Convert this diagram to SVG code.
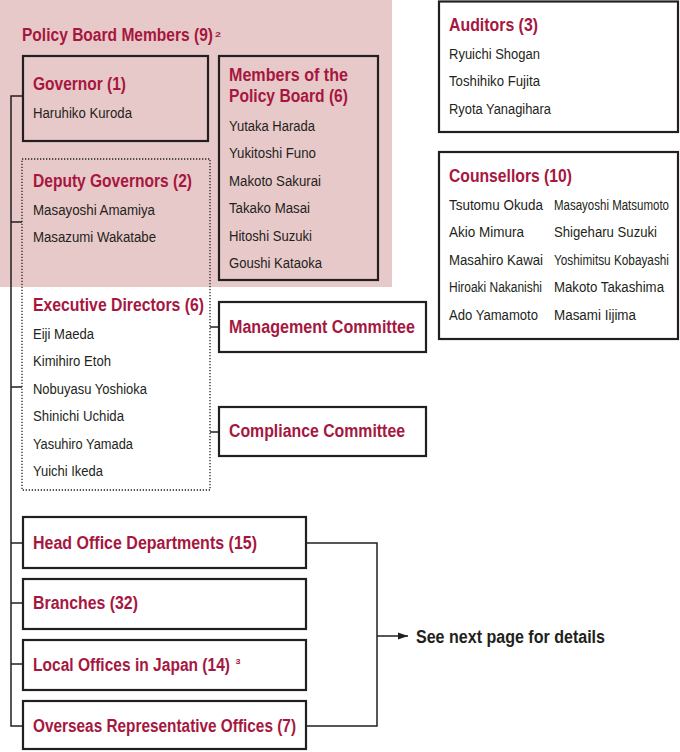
<svg xmlns="http://www.w3.org/2000/svg" width="680" height="752" viewBox="0 0 680 752">
<style>
text{font-family:"Liberation Sans",Arial,sans-serif}
.t{font-weight:bold;font-size:18px;fill:#A6173F}
.n{font-size:15.5px;fill:#231F20}
.k{font-weight:bold;font-size:18px;fill:#231F20}
.sup{font-weight:bold;font-size:7.5px;fill:#A6173F}
.box{fill:none;stroke:#231F20;stroke-width:2.2}
.dot{fill:none;stroke:#231F20;stroke-width:1.3;stroke-dasharray:1.3 1.7}
.ln{fill:none;stroke:#231F20;stroke-width:1.5}
</style>
<defs>
<marker id="ah" viewBox="0 0 10 10" refX="10" refY="5" markerWidth="10" markerHeight="10" markerUnits="userSpaceOnUse" orient="auto">
<path d="M0,1.5 L10,5 L0,8.5 Z" fill="#231F20"/>
</marker>
</defs>
<rect x="0" y="0" width="392" height="287" fill="#E8C9C9"/>
<text x="22" y="41" class="t" textLength="191" lengthAdjust="spacingAndGlyphs">Policy Board Members (9)</text>
<text x="215" y="37" class="sup" textLength="6" lengthAdjust="spacingAndGlyphs">2</text>

<g id="connectors">
<path class="ln" d="M23,96 H11 V726 H23"/>
<path class="ln" d="M11,222 H22 M11,387 H22 M11,543 H23 M11,603 H23 M11,664 H23"/>
<path class="ln" d="M210,327 H219 M210,432 H219"/>
<path class="ln" d="M306,543 H377 V726 H306 M377,636 H408" marker-end="url(#ah)"/>
</g>

<g id="governor">
<rect class="box" x="23" y="56" width="185" height="85"/>
<text x="33" y="90" class="t" textLength="93" lengthAdjust="spacingAndGlyphs">Governor (1)</text>
<text x="33" y="118" class="n" textLength="99" lengthAdjust="spacingAndGlyphs">Haruhiko Kuroda</text>
</g>

<g id="members">
<rect class="box" x="219" y="56" width="159" height="224"/>
<text x="229" y="81" class="t" textLength="119" lengthAdjust="spacingAndGlyphs">Members of the</text>
<text x="229" y="102" class="t" textLength="119" lengthAdjust="spacingAndGlyphs">Policy Board (6)</text>
<text x="229" y="130.5" class="n" textLength="86" lengthAdjust="spacingAndGlyphs">Yutaka Harada</text>
<text x="229" y="158" class="n" textLength="87" lengthAdjust="spacingAndGlyphs">Yukitoshi Funo</text>
<text x="229" y="185.5" class="n" textLength="92" lengthAdjust="spacingAndGlyphs">Makoto Sakurai</text>
<text x="229" y="213" class="n" textLength="81" lengthAdjust="spacingAndGlyphs">Takako Masai</text>
<text x="229" y="240.5" class="n" textLength="83" lengthAdjust="spacingAndGlyphs">Hitoshi Suzuki</text>
<text x="229" y="268" class="n" textLength="93" lengthAdjust="spacingAndGlyphs">Goushi Kataoka</text>
</g>

<g id="deputy-executive">
<rect class="dot" x="22" y="159" width="188" height="331"/>
<text x="33" y="187" class="t" textLength="159" lengthAdjust="spacingAndGlyphs">Deputy Governors (2)</text>
<text x="33" y="214.5" class="n" textLength="122" lengthAdjust="spacingAndGlyphs">Masayoshi Amamiya</text>
<text x="33" y="242" class="n" textLength="123" lengthAdjust="spacingAndGlyphs">Masazumi Wakatabe</text>
<text x="33" y="311" class="t" textLength="171" lengthAdjust="spacingAndGlyphs">Executive Directors (6)</text>
<text x="33" y="338.5" class="n" textLength="61" lengthAdjust="spacingAndGlyphs">Eiji Maeda</text>
<text x="33" y="366" class="n" textLength="78" lengthAdjust="spacingAndGlyphs">Kimihiro Etoh</text>
<text x="33" y="393.5" class="n" textLength="114" lengthAdjust="spacingAndGlyphs">Nobuyasu Yoshioka</text>
<text x="33" y="421" class="n" textLength="91" lengthAdjust="spacingAndGlyphs">Shinichi Uchida</text>
<text x="33" y="448.5" class="n" textLength="100" lengthAdjust="spacingAndGlyphs">Yasuhiro Yamada</text>
<text x="33" y="476" class="n" textLength="70" lengthAdjust="spacingAndGlyphs">Yuichi Ikeda</text>
</g>

<g id="management">
<rect class="box" x="219" y="302" width="207" height="50"/>
<text x="229" y="333" class="t" textLength="186" lengthAdjust="spacingAndGlyphs">Management Committee</text>
</g>
<g id="compliance">
<rect class="box" x="219" y="407" width="207" height="49"/>
<text x="229" y="437" class="t" textLength="176" lengthAdjust="spacingAndGlyphs">Compliance Committee</text>
</g>

<g id="auditors">
<rect class="box" x="439" y="1.5" width="239" height="130.5"/>
<text x="449" y="31" class="t" textLength="89" lengthAdjust="spacingAndGlyphs">Auditors (3)</text>
<text x="449" y="58.5" class="n" textLength="91" lengthAdjust="spacingAndGlyphs">Ryuichi Shogan</text>
<text x="449" y="86" class="n" textLength="91" lengthAdjust="spacingAndGlyphs">Toshihiko Fujita</text>
<text x="449" y="113.5" class="n" textLength="102" lengthAdjust="spacingAndGlyphs">Ryota Yanagihara</text>
</g>

<g id="counsellors">
<rect class="box" x="439" y="152" width="239" height="187"/>
<text x="449" y="182" class="t" textLength="123" lengthAdjust="spacingAndGlyphs">Counsellors (10)</text>
<text x="449" y="209.5" class="n" textLength="94" lengthAdjust="spacingAndGlyphs">Tsutomu Okuda</text>
<text x="449" y="237" class="n" textLength="75" lengthAdjust="spacingAndGlyphs">Akio Mimura</text>
<text x="449" y="264.5" class="n" textLength="94" lengthAdjust="spacingAndGlyphs">Masahiro Kawai</text>
<text x="449" y="292" class="n" textLength="93" lengthAdjust="spacingAndGlyphs">Hiroaki Nakanishi</text>
<text x="449" y="319.5" class="n" textLength="89" lengthAdjust="spacingAndGlyphs">Ado Yamamoto</text>
<text x="554" y="209.5" class="n" textLength="115" lengthAdjust="spacingAndGlyphs">Masayoshi Matsumoto</text>
<text x="554" y="237" class="n" textLength="103" lengthAdjust="spacingAndGlyphs">Shigeharu Suzuki</text>
<text x="554" y="264.5" class="n" textLength="115" lengthAdjust="spacingAndGlyphs">Yoshimitsu Kobayashi</text>
<text x="554" y="292" class="n" textLength="110" lengthAdjust="spacingAndGlyphs">Makoto Takashima</text>
<text x="554" y="319.5" class="n" textLength="82" lengthAdjust="spacingAndGlyphs">Masami Iijima</text>
</g>

<g id="head-office">
<rect class="box" x="23" y="517" width="283" height="51"/>
<text x="33" y="549" class="t" textLength="224" lengthAdjust="spacingAndGlyphs">Head Office Departments (15)</text>
</g>
<g id="branches">
<rect class="box" x="23" y="579" width="283" height="50"/>
<text x="33" y="609" class="t" textLength="105" lengthAdjust="spacingAndGlyphs">Branches (32)</text>
</g>
<g id="local-offices">
<rect class="box" x="23" y="640" width="283" height="50"/>
<text x="33" y="671" class="t" textLength="197" lengthAdjust="spacingAndGlyphs">Local Offices in Japan (14)</text>
<text x="235.5" y="664" class="sup" textLength="5" lengthAdjust="spacingAndGlyphs">3</text>
</g>
<g id="overseas">
<rect class="box" x="23" y="701" width="283" height="48"/>
<text x="33" y="732" class="t" textLength="263" lengthAdjust="spacingAndGlyphs">Overseas Representative Offices (7)</text>
</g>

<text x="416" y="643" class="k" textLength="189" lengthAdjust="spacingAndGlyphs">See next page for details</text>
</svg>
